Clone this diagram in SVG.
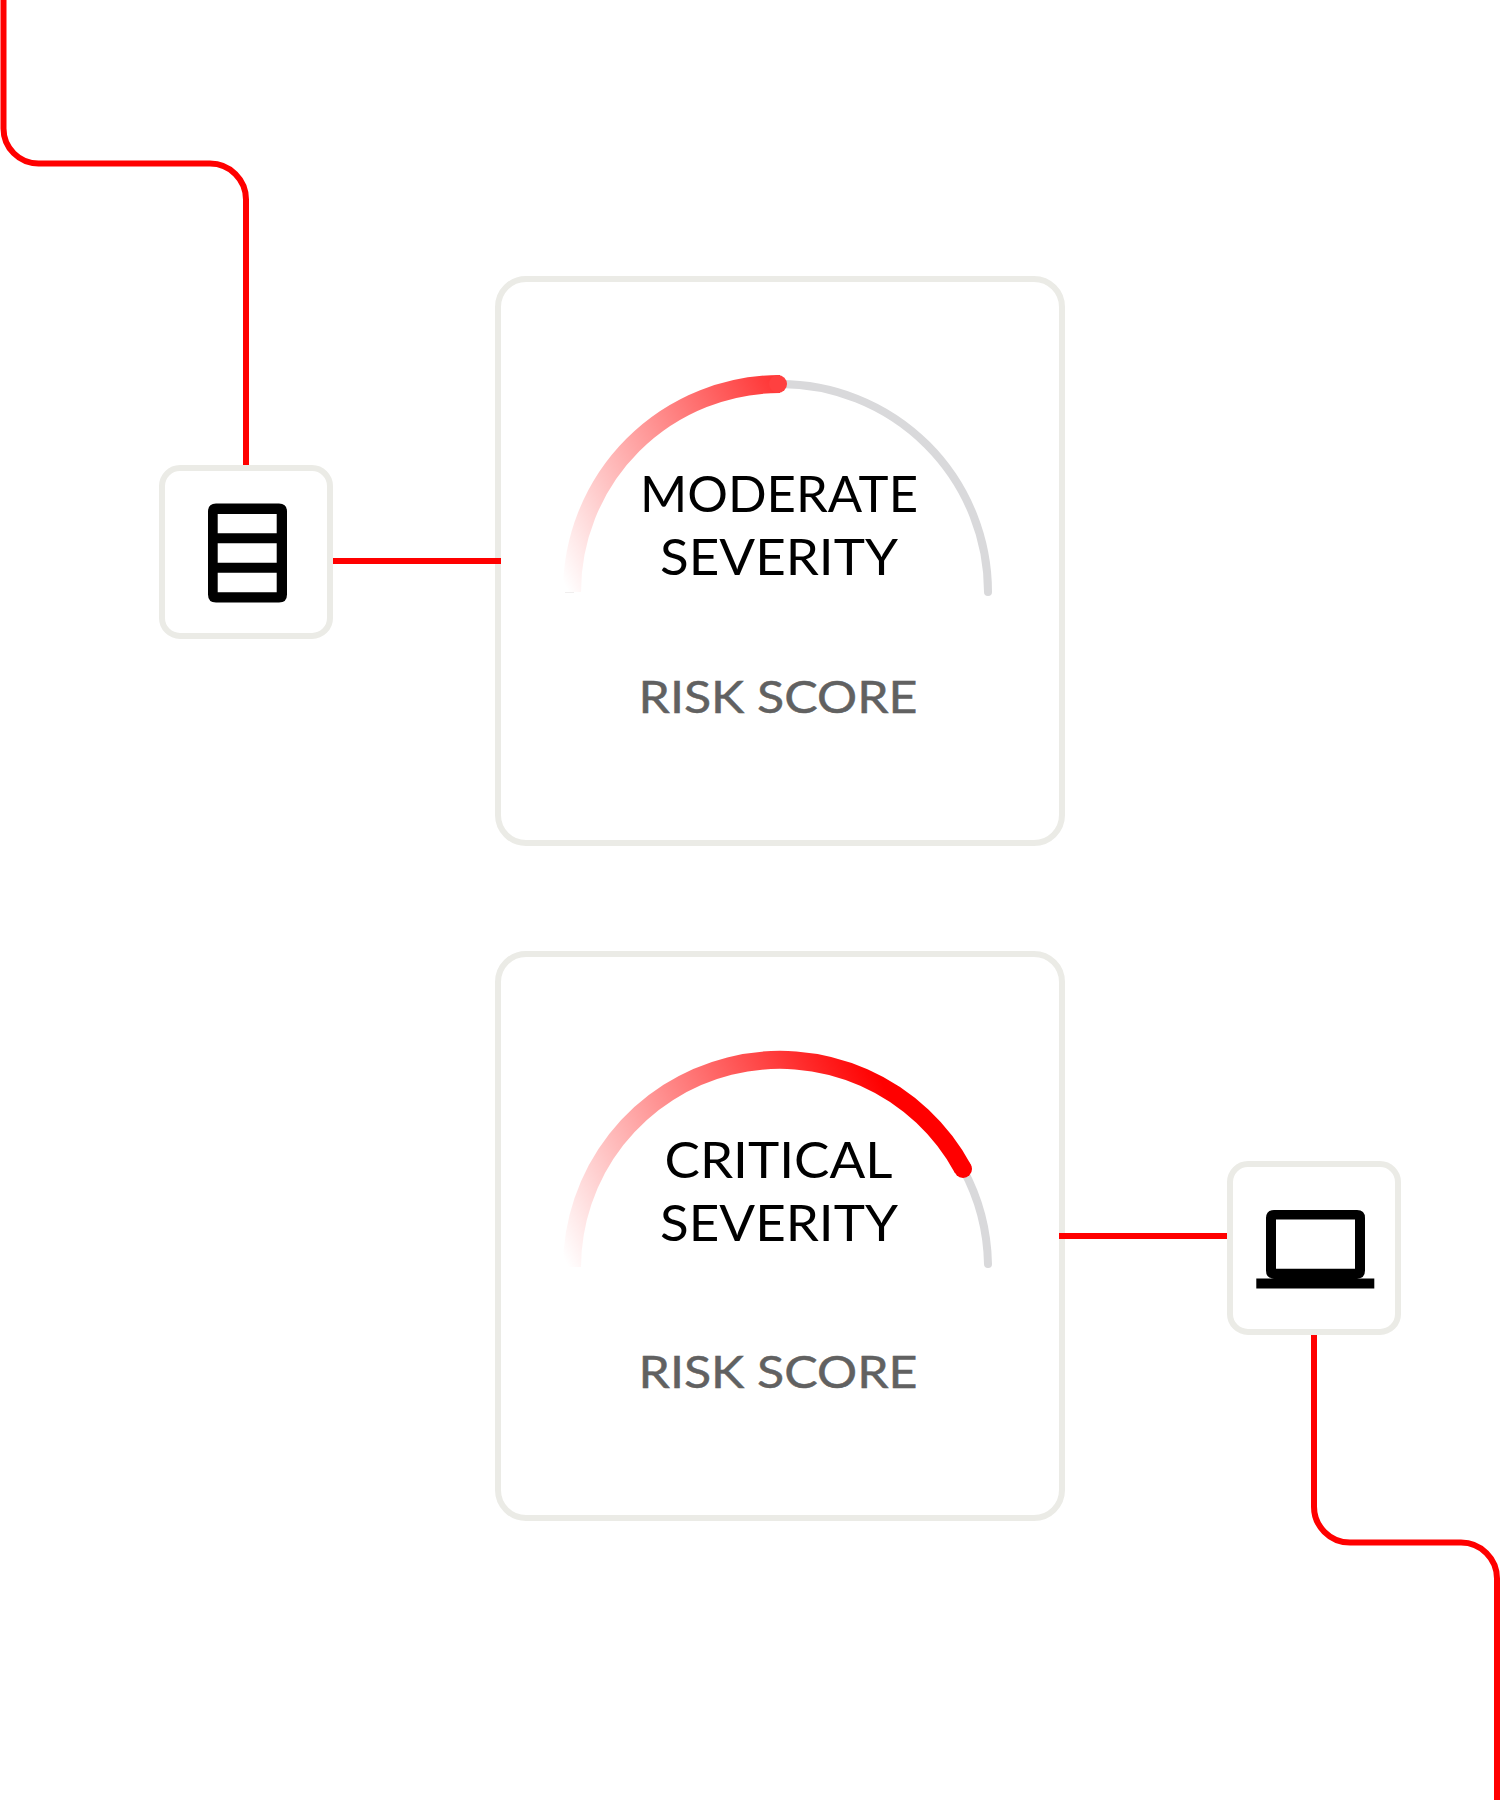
<svg xmlns="http://www.w3.org/2000/svg" width="1500" height="1800" viewBox="0 0 1500 1800">
<style>
.box{fill:#fff;stroke:#EBEBE6;stroke-width:6}
.wire{fill:none;stroke:#f00;stroke-width:6}
.track{fill:none;stroke:#D9D9DB;stroke-width:8;stroke-linecap:round}
.title{font-family:Lato,"Liberation Sans",sans-serif;font-size:50.5px;fill:#000}
.sub{font-family:Lato,"Liberation Sans",sans-serif;font-size:45px;fill:#616161;stroke:#616161;stroke-width:.5}
.icon{fill:#000;fill-rule:evenodd}
</style>
<defs>
<linearGradient id="g1" gradientUnits="userSpaceOnUse" x1="572" y1="600" x2="888" y2="442"><stop offset="0" stop-color="#f00" stop-opacity="0"/><stop offset="1" stop-color="#f00"/></linearGradient>
<linearGradient id="g2" gradientUnits="userSpaceOnUse" x1="572" y1="1275" x2="897" y2="1112"><stop offset="0" stop-color="#f00" stop-opacity="0"/><stop offset="1" stop-color="#f00"/></linearGradient>
</defs>
<rect width="1500" height="1800" fill="#fff"/>
<g id="card-moderate">
<rect class="box" x="498" y="279" width="564" height="564" rx="28"/>
<path class="track" d="M780 384A208 208 0 0 1 988 592"/>
<path d="M572 592A208 208 0 0 1 780 384" fill="none" stroke="url(#g1)" stroke-width="18"/>
<circle cx="778" cy="384" r="9" fill="#ff4040"/>
<rect x="565" y="592" width="9" height="1" fill="#f0eeee"/>
<text class="title" x="640" y="511.5" textLength="278" lengthAdjust="spacingAndGlyphs">MODERATE</text>
<text class="title" x="660" y="574.5" textLength="238" lengthAdjust="spacingAndGlyphs">SEVERITY</text>
<text class="sub" x="638.5" y="713" textLength="279" lengthAdjust="spacingAndGlyphs">RISK SCORE</text>
</g>
<g id="card-critical">
<rect class="box" x="498" y="954" width="564" height="564" rx="28"/>
<path class="track" d="M963 1169A208 208 0 0 1 988 1264"/>
<path d="M572 1267A208 208 0 0 1 963 1169" fill="none" stroke="url(#g2)" stroke-width="18"/>
<circle cx="963" cy="1169" r="9" fill="#f00"/>
<text class="title" x="664.5" y="1177.5" textLength="228" lengthAdjust="spacingAndGlyphs">CRITICAL</text>
<text class="title" x="660" y="1240.5" textLength="238" lengthAdjust="spacingAndGlyphs">SEVERITY</text>
<text class="sub" x="638.5" y="1388" textLength="279" lengthAdjust="spacingAndGlyphs">RISK SCORE</text>
</g>
<g id="node-database">
<rect class="box" x="162" y="468" width="168" height="168" rx="18"/>
<path class="icon" d="M216 503.5H279Q287 503.5 287 511.5V594.5Q287 602.5 279 602.5H216Q208 602.5 208 594.5V511.5Q208 503.5 216 503.5ZM217.7 514V533.2H276.7V514ZM217.7 543.3V562.7H276.7V543.3ZM217.7 572.8V592.2H276.7V572.8Z"/>
</g>
<g id="node-laptop">
<rect class="box" x="1230" y="1164" width="168" height="168" rx="18"/>
<path class="icon" d="M1274 1210H1357Q1365 1210 1365 1218V1270.5Q1365 1278.5 1357 1278.5H1374.3V1288.6H1256.3V1278.5H1274Q1266 1278.5 1266 1270.5V1218Q1266 1210 1274 1210ZM1276 1219.5V1268.8H1355V1219.5Z"/>
</g>
<g id="connectors">
<path class="wire" d="M3.5 0V128.5A35 35 0 0 0 38.5 163.5H210A36 36 0 0 1 246 199.5V465"/>
<path class="wire" d="M333 561H501"/>
<path class="wire" d="M1059 1236H1227"/>
<path class="wire" d="M1314 1335V1506A36 36 0 0 0 1350 1542.5H1461A36 36 0 0 1 1497 1578.5V1800"/>
</g>
</svg>
